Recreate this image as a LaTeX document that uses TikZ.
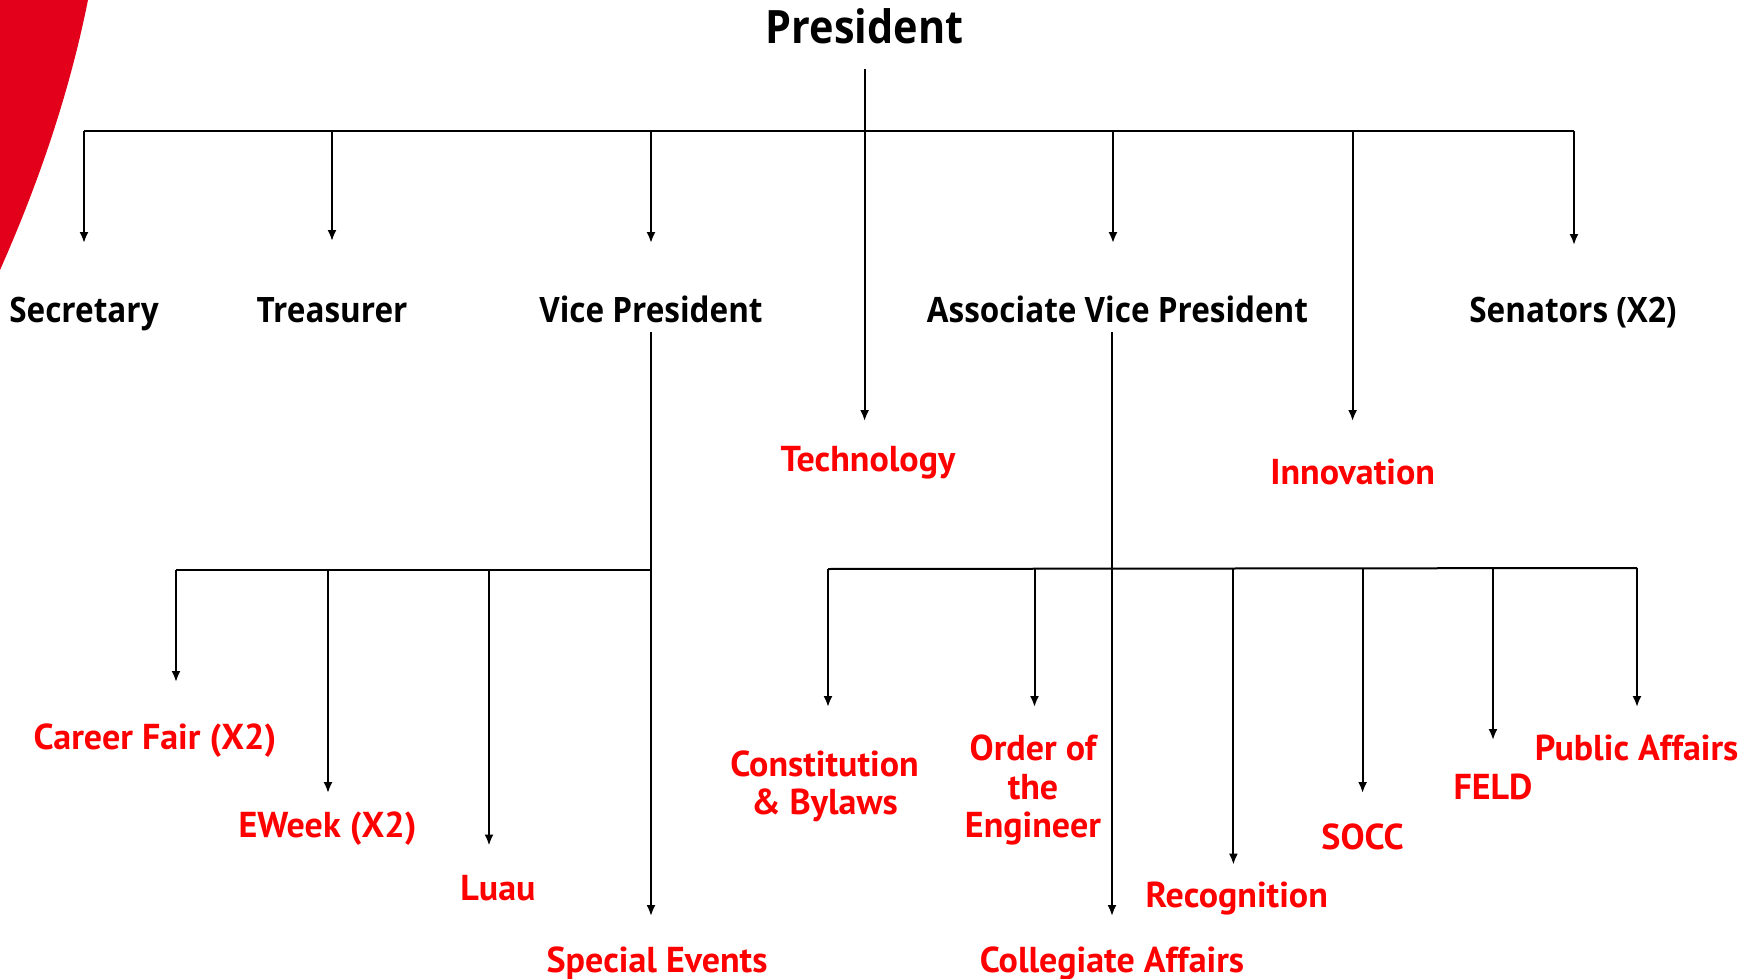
\documentclass[tikz,border=0pt]{standalone}
\usepackage{fontspec}
\usetikzlibrary{arrows.meta}
\newfontfamily\blkfont[FakeStretch=0.9]{Open Sans}
\newfontfamily\redfont{PT Sans}
\definecolor{bandred}{RGB}{226,0,26}
\definecolor{lblred}{RGB}{255,0,0}
\begin{document}
\begin{tikzpicture}[x=0.5pt,y=-0.5pt,
  conn/.style={line width=1pt,black},
  arr/.style={conn,-{Latex[length=5.5pt,width=4.5pt]}},
  toplbl/.style={inner sep=0pt,anchor=base,font=\blkfont\bfseries\fontsize{23}{27}\selectfont},
  blklbl/.style={inner sep=0pt,anchor=base,font=\blkfont\bfseries\fontsize{17.5}{21}\selectfont},
  redlbl/.style={inner sep=0pt,anchor=base,text=lblred,font=\redfont\bfseries\fontsize{18}{19.25}\selectfont},
  redmulti/.style={inner sep=0pt,text=lblred,align=center,font=\redfont\bfseries\fontsize{18}{19.25}\selectfont}]
\useasboundingbox (0,0) rectangle (1747,979);
% red band
\fill[bandred] (0,0) -- (88,0) .. controls (70,90) and (40,180) .. (0,270) -- cycle;
% labels
\node[toplbl] (pres) at (864.6,43.5) {President};
\node[blklbl] (sec) at (84,322) {Secretary};
\node[blklbl] (tre) at (332,322) {Treasurer};
\node[blklbl] (vp) at (651,322) {Vice President};
\node[blklbl] (avp) at (1117.5,322) {Associate Vice President};
\node[blklbl] (sen) at (1573,322) {Senators (X2)};
\node[redlbl] (tech) at (868,471.5) {Technology};
\node[redlbl] (inno) at (1352.6,484) {Innovation};
\node[redlbl] (cf) at (155,749) {Career Fair (X2)};
\node[redlbl] (ew) at (327.6,837) {EWeek (X2)};
\node[redlbl] (luau) at (498,900.5) {Luau};
\node[redlbl] (se) at (657,972) {Special Events};
\node[redmulti] (cb) at (824.5,786.5) {Constitution\\\& Bylaws};
\node[redmulti] (oe) at (1033,790) {Order of\\the\\Engineer};
\node[redlbl] (ca) at (1112,972) {Collegiate Affairs};
\node[redlbl] (rec) at (1236.8,907) {Recognition};
\node[redlbl] (socc) at (1362.6,849) {SOCC};
\node[redlbl] (feld) at (1493,799) {FELD};
\node[redlbl] (pa) at (1636.7,760) {Public Affairs};
% junctions and arrow ends
\coordinate (pTop) at (864.6,69);
\coordinate (busL) at (84,131);
\coordinate (busR) at (1574,131);
\coordinate (secE) at (84,243);
\coordinate (treE) at (332,241);
\coordinate (vpE) at (651,243);
\coordinate (avpE) at (1113,243);
\coordinate (senE) at (1574,245);
\coordinate (techE) at (864.6,421);
\coordinate (innoE) at (1352.6,421);
\coordinate (vpS) at (651,332);
\coordinate (vpBusL) at (176,569.5);
\coordinate (vpBusR) at (651,569.5);
\coordinate (cfE) at (176,682);
\coordinate (ewE) at (328,793);
\coordinate (luauE) at (489,845.5);
\coordinate (seE) at (651,916);
\coordinate (avpS) at (1112,332);
\coordinate (avpBusL) at (828,569);
\coordinate (avpBusR) at (1637,568);
\coordinate (cbE) at (828,707);
\coordinate (oeE) at (1034.5,707);
\coordinate (caE) at (1112,916);
\coordinate (recE) at (1233.4,864.6);
\coordinate (soccE) at (1362.6,793);
\coordinate (feldE) at (1493,740);
\coordinate (paE) at (1637,707);
% top tree
\draw[conn] (busL) -- (busR);
\draw[arr] (pTop) -- (techE);
\draw[arr] (busL) -- (secE);
\draw[arr] (treE |- busL) -- (treE);
\draw[arr] (vpE |- busL) -- (vpE);
\draw[arr] (avpE |- busL) -- (avpE);
\draw[arr] (innoE |- busL) -- (innoE);
\draw[arr] (busR) -- (senE);
% VP subtree
\draw[conn] (vpBusL) -- (vpBusR);
\draw[arr] (vpS) -- (seE);
\draw[arr] (vpBusL) -- (cfE);
\draw[arr] (ewE |- vpBusL) -- (ewE);
\draw[arr] (luauE |- vpBusL) -- (luauE);
% AVP subtree
\draw[conn] (avpBusL) -- (avpBusR);
\draw[arr] (avpS) -- (caE);
\draw[arr] (avpBusL) -- (cbE);
\draw[arr] (oeE |- avpBusL) -- (oeE);
\draw[arr] (recE |- avpBusL) -- (recE);
\draw[arr] (soccE |- avpBusL) -- (soccE);
\draw[arr] (feldE |- avpBusL) -- (feldE);
\draw[arr] (avpBusR) -- (paE);
\end{tikzpicture}
\end{document}
